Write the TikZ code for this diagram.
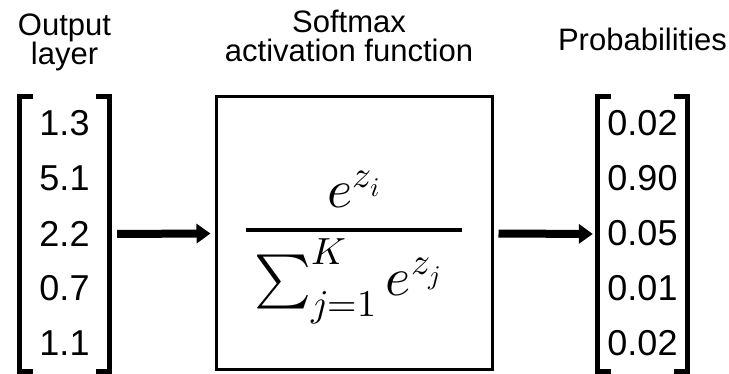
\documentclass[tikz,border=0pt]{standalone}
\usepackage{amsmath}
\usepackage{fontspec}
\usepackage{unicode-math}
\setmainfont{Liberation Sans}
\setmathfont{Latin Modern Math}
\usepackage{tikz}
\usetikzlibrary{arrows.meta, positioning}

\tikzset{
  vecbox/.style={minimum width=89pt, minimum height=274pt, inner sep=0pt},
  brk/.style={line width=5pt},
  entry/.style={font=\fontsize{36}{36}\selectfont, inner sep=0pt},
  lbl/.style={font=\fontsize{31}{29}\selectfont, align=center, inner sep=0pt},
  smaxbox/.style={draw, line width=3pt, minimum width=276pt, minimum height=273pt,
                  inner sep=0pt},
  formula/.style={inner sep=0pt, font=\fontsize{54}{60}\selectfont},
  bigarrow/.style={line width=8pt, -{Triangle[length=14pt,width=19pt]}},
}

\begin{document}
\begin{tikzpicture}[x=1pt,y=-1pt]
  \useasboundingbox (0,0) rectangle (729,374);
  %---- output layer (logits) -------------------------------------------------
  \node[vecbox] (invec) at (64.5,234) {};
  \foreach \v [count=\k] in {1.3,5.1,2.2,0.7,1.1}
    \node[entry] (in\k) at (64.5,{68.5+55*\k}) {\v};
  \draw[brk] ([xshift=13pt]invec.north west) -| (invec.south west) -- ++(13,0);
  \draw[brk] ([xshift=-13pt]invec.north east) -| (invec.south east) -- ++(-13,0);
  \node[lbl, above=26pt of invec] (inlbl) {Output\\layer};
  %---- softmax box -----------------------------------------------------------
  \node[smaxbox] (smax) at (354,233.5) {};
  \node[formula] (sfrac) at ([yshift=-14pt]smax.center)
    {$\genfrac{}{}{4pt}{0}{e^{z_i}}{\mkern3mu\sum_{j=1}^{K} e^{z_j}\mkern7mu}$};
  \node[lbl, above=33pt of smax, xshift=-5pt] (smaxlbl)
    {Softmax\\activation function};
  %---- probabilities ---------------------------------------------------------
  \node[vecbox] (outvec) at (642.5,234) {};
  \foreach \v [count=\k] in {0.02,0.90,0.05,0.01,0.02}
    \node[entry] (out\k) at (642.5,{68.5+55*\k}) {\v};
  \draw[brk] ([xshift=13pt]outvec.north west) -| (outvec.south west) -- ++(13,0);
  \draw[brk] ([xshift=-13pt]outvec.north east) -| (outvec.south east) -- ++(-13,0);
  \node[lbl, above=46pt of outvec] (outlbl) {Probabilities};
  %---- arrows ----------------------------------------------------------------
  \draw[bigarrow, shorten <=8pt, shorten >=4pt] (invec.east) -- (smax.west);
  \draw[bigarrow, shorten <=5pt, shorten >=5pt] (smax.east) -- (outvec.west);
\end{tikzpicture}
\end{document}
